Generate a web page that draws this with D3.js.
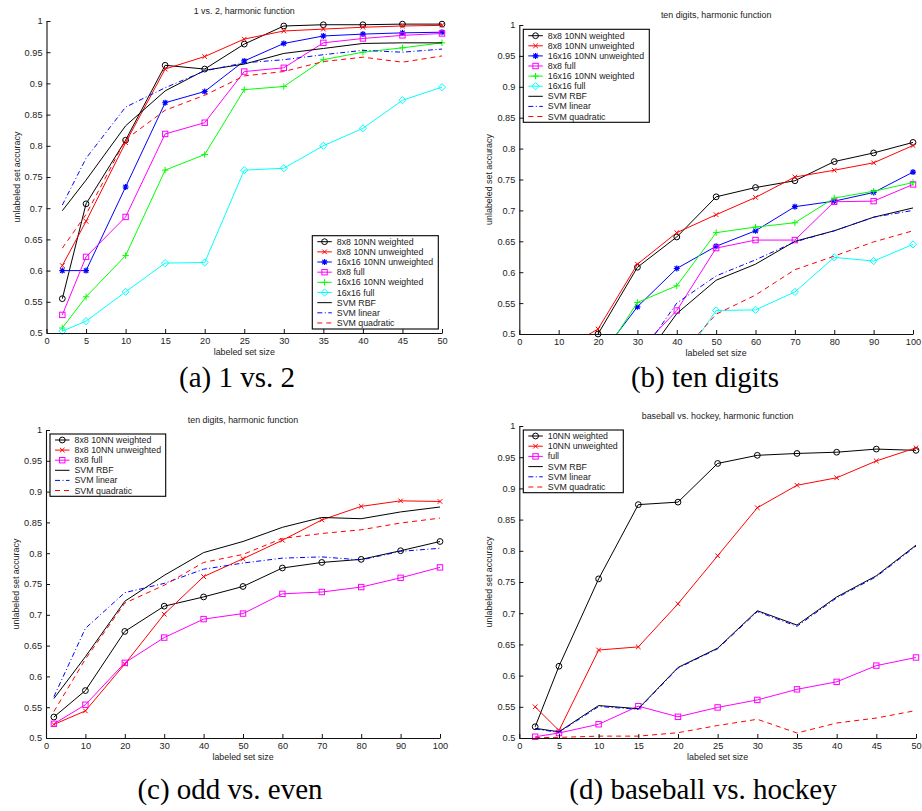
<!DOCTYPE html>
<html>
<head>
<meta charset="utf-8">
<script src="https://cdn.jsdelivr.net/npm/d3@7"></script>
<style>
  body { margin: 0; background: #fff; }
  svg { display: block; }
</style>
</head>
<body>
<svg id="fig" width="922" height="811"></svg>
<script>
// ---------- data ----------
const accuracyTicks = [0.5, 0.55, 0.6, 0.65, 0.7, 0.75, 0.8, 0.85, 0.9, 0.95, 1];
const sizeTicks50 = [0, 5, 10, 15, 20, 25, 30, 35, 40, 45, 50];
const sizeTicks100 = [0, 10, 20, 30, 40, 50, 60, 70, 80, 90, 100];

// (a) 1 vs. 2
const sizesA = [2, 5, 10, 15, 20, 25, 30, 35, 40, 45, 50];
const aWeighted8 = [0.555, 0.707, 0.809, 0.929, 0.923, 0.963, 0.992, 0.994, 0.994, 0.995, 0.995];
const aUnweighted8 = [0.608, 0.679, 0.805, 0.923, 0.943, 0.971, 0.984, 0.987, 0.990, 0.992, 0.993];
const aUnweighted16 = [0.600, 0.600, 0.734, 0.869, 0.887, 0.936, 0.964, 0.976, 0.979, 0.981, 0.982];
const aFull8 = [0.529, 0.622, 0.686, 0.819, 0.837, 0.919, 0.925, 0.965, 0.972, 0.977, 0.980];
const aWeighted16 = [0.508, 0.558, 0.624, 0.761, 0.786, 0.890, 0.895, 0.938, 0.950, 0.957, 0.965];
const aFull16 = [0.503, 0.519, 0.566, 0.612, 0.613, 0.761, 0.764, 0.800, 0.828, 0.873, 0.894];
const aRbf = [0.696, 0.745, 0.832, 0.888, 0.921, 0.931, 0.948, 0.956, 0.964, 0.965, 0.965];
const aLinear = [0.705, 0.780, 0.862, 0.893, 0.920, 0.933, 0.938, 0.946, 0.953, 0.950, 0.955];
const aQuad = [0.636, 0.690, 0.810, 0.857, 0.881, 0.912, 0.919, 0.935, 0.942, 0.934, 0.944];

// (b) ten digits
const sizesB = [10, 20, 30, 40, 50, 60, 70, 80, 90, 100];
const bWeighted8 = [0.450, 0.500, 0.608, 0.657, 0.722, 0.737, 0.748, 0.779, 0.793, 0.810];
const bUnweighted8 = [0.471, 0.508, 0.613, 0.664, 0.693, 0.721, 0.754, 0.765, 0.777, 0.805];
const bUnweighted16 = [0.400, 0.460, 0.544, 0.606, 0.642, 0.667, 0.706, 0.715, 0.729, 0.762];
const bFull8 = [0.400, 0.430, 0.471, 0.538, 0.639, 0.652, 0.652, 0.714, 0.715, 0.742];
const bWeighted16 = [0.400, 0.453, 0.551, 0.578, 0.664, 0.673, 0.680, 0.720, 0.731, 0.745];
const bFull16 = [0.350, 0.380, 0.400, 0.446, 0.538, 0.539, 0.568, 0.624, 0.618, 0.645];
const bRbf = [0.380, 0.420, 0.445, 0.533, 0.587, 0.613, 0.650, 0.667, 0.689, 0.704];
const bLinear = [0.390, 0.430, 0.459, 0.550, 0.594, 0.620, 0.649, 0.667, 0.689, 0.700];
const bQuad = [0.380, 0.420, 0.440, 0.461, 0.532, 0.563, 0.604, 0.626, 0.649, 0.667];

// (c) odd vs. even
const sizesC = [2, 10, 20, 30, 40, 50, 60, 70, 80, 90, 100];
const cWeighted8 = [0.534, 0.577, 0.673, 0.714, 0.729, 0.746, 0.776, 0.785, 0.790, 0.804, 0.819];
const cUnweighted8 = [0.522, 0.544, 0.620, 0.701, 0.762, 0.791, 0.821, 0.854, 0.876, 0.885, 0.884];
const cFull8 = [0.523, 0.554, 0.622, 0.663, 0.693, 0.702, 0.734, 0.737, 0.745, 0.760, 0.777];
const cRbf = [0.564, 0.632, 0.722, 0.764, 0.801, 0.819, 0.842, 0.858, 0.856, 0.867, 0.875];
const cLinear = [0.567, 0.678, 0.736, 0.751, 0.774, 0.784, 0.792, 0.794, 0.789, 0.803, 0.808];
const cQuad = [0.543, 0.628, 0.719, 0.748, 0.785, 0.798, 0.824, 0.832, 0.838, 0.849, 0.857];

// (d) baseball vs. hockey
const sizesD = [2, 5, 10, 15, 20, 25, 30, 35, 40, 45, 50];
const dWeighted = [0.518, 0.615, 0.755, 0.874, 0.878, 0.940, 0.953, 0.956, 0.958, 0.963, 0.961];
const dUnweighted = [0.550, 0.512, 0.641, 0.646, 0.715, 0.792, 0.869, 0.905, 0.917, 0.944, 0.965];
const dFull = [0.502, 0.508, 0.522, 0.551, 0.534, 0.549, 0.561, 0.578, 0.590, 0.616, 0.629];
const dRbf = [0.5155, 0.510, 0.552, 0.547, 0.613, 0.644, 0.704, 0.681, 0.726, 0.760, 0.809];
const dLinear = [0.5145, 0.509, 0.5505, 0.546, 0.612, 0.643, 0.7025, 0.679, 0.7245, 0.7585, 0.8075];
const dQuad = [0.5005, 0.501, 0.503, 0.503, 0.5085, 0.520, 0.530, 0.508, 0.524, 0.532, 0.544];

// ---------- styles ----------
const STYLE = {
  w8:   { color: "#000000", marker: "circle" },
  u8:   { color: "#ff0000", marker: "x" },
  u16:  { color: "#0000ff", marker: "star" },
  f8:   { color: "#ff00ff", marker: "square" },
  w16:  { color: "#00ff00", marker: "plus" },
  f16:  { color: "#00ffff", marker: "diamond" },
  rbf:  { color: "#000000", dash: null },
  lin:  { color: "#0000ff", dash: "5,2.5,1,2.5" },
  quad: { color: "#ff0000", dash: "5,4" }
};

const SANS = "'Liberation Sans', Arial, Helvetica, sans-serif";
const SERIF = "'Liberation Serif', 'Times New Roman', Times, serif";

const panels = [
  {
    title: "1 vs. 2, harmonic function", caption: "(a) 1 vs. 2",
    sizes: sizesA, xMax: 50, xTicks: sizeTicks50,
    box: { x0: 46.5, x1: 442, y0: 21, y1: 333 },
    captionPos: [237, 387],
    legend: { x: 312.3, y: 235.7, w: 126, h: 93.3, row0: 241.7, step: 10.16 },
    series: [
      ["8x8 10NN weighted", aWeighted8, "w8"],
      ["8x8 10NN unweighted", aUnweighted8, "u8"],
      ["16x16 10NN unweighted", aUnweighted16, "u16"],
      ["8x8 full", aFull8, "f8"],
      ["16x16 10NN weighted", aWeighted16, "w16"],
      ["16x16 full", aFull16, "f16"],
      ["SVM RBF", aRbf, "rbf"],
      ["SVM linear", aLinear, "lin"],
      ["SVM quadratic", aQuad, "quad"]
    ]
  },
  {
    title: "ten digits, harmonic function", caption: "(b) ten digits",
    sizes: sizesB, xMax: 100, xTicks: sizeTicks100,
    box: { x0: 519.3, x1: 913, y0: 25, y1: 334 },
    captionPos: [705, 387],
    legend: { x: 523.3, y: 29.3, w: 126, h: 93, row0: 35.7, step: 10.1 },
    series: [
      ["8x8 10NN weighted", bWeighted8, "w8"],
      ["8x8 10NN unweighted", bUnweighted8, "u8"],
      ["16x16 10NN unweighted", bUnweighted16, "u16"],
      ["8x8 full", bFull8, "f8"],
      ["16x16 10NN weighted", bWeighted16, "w16"],
      ["16x16 full", bFull16, "f16"],
      ["SVM RBF", bRbf, "rbf"],
      ["SVM linear", bLinear, "lin"],
      ["SVM quadratic", bQuad, "quad"]
    ]
  },
  {
    title: "ten digits, harmonic function", caption: "(c) odd vs. even",
    sizes: sizesC, xMax: 100, xTicks: sizeTicks100,
    box: { x0: 46, x1: 440, y0: 430, y1: 738 },
    captionPos: [230, 799],
    legend: { x: 50, y: 434, w: 115.7, h: 62.3, row0: 440, step: 10.1 },
    series: [
      ["8x8 10NN weighted", cWeighted8, "w8"],
      ["8x8 10NN unweighted", cUnweighted8, "u8"],
      ["8x8 full", cFull8, "f8"],
      ["SVM RBF", cRbf, "rbf"],
      ["SVM linear", cLinear, "lin"],
      ["SVM quadratic", cQuad, "quad"]
    ]
  },
  {
    title: "baseball vs. hockey, harmonic function", caption: "(d) baseball vs. hockey",
    sizes: sizesD, xMax: 50, xTicks: sizeTicks50,
    box: { x0: 519.3, x1: 916, y0: 426, y1: 738 },
    captionPos: [703, 799],
    legend: { x: 523.3, y: 430, w: 100, h: 62.7, row0: 436, step: 10.2 },
    series: [
      ["10NN weighted", dWeighted, "w8"],
      ["10NN unweighted", dUnweighted, "u8"],
      ["full", dFull, "f8"],
      ["SVM RBF", dRbf, "rbf"],
      ["SVM linear", dLinear, "lin"],
      ["SVM quadratic", dQuad, "quad"]
    ]
  }
];

const svg = d3.select("#fig");
svg.append("rect").attr("width", 922).attr("height", 811).attr("fill", "#fff");

// MATLAB-like marker glyphs centred on (cx, cy)
function drawMarker(g, type, cx, cy, color) {
  const s = g.append("g").attr("transform", `translate(${cx},${cy})`)
    .attr("fill", "none").attr("stroke", color).attr("stroke-width", 1);
  if (type === "circle") {
    s.append("circle").attr("r", 2.9);
  } else if (type === "square") {
    s.append("rect").attr("x", -2.7).attr("y", -2.7).attr("width", 5.4).attr("height", 5.4);
  } else if (type === "diamond") {
    s.append("path").attr("d", "M0,-3.6L3.6,0L0,3.6L-3.6,0Z");
  } else if (type === "x") {
    s.append("path").attr("d", "M-2.3,-2.3L2.3,2.3M-2.3,2.3L2.3,-2.3");
  } else if (type === "plus") {
    s.append("path").attr("d", "M-3.2,0L3.2,0M0,-3.2L0,3.2");
  } else if (type === "star") {
    s.append("path").attr("d", "M-3,0L3,0M0,-3L0,3M-2.2,-2.2L2.2,2.2M-2.2,2.2L2.2,-2.2")
      .attr("stroke-width", 1.2);
  }
}

panels.forEach((p, pi) => {
  const { x0, x1, y0, y1 } = p.box;
  const x = d3.scaleLinear().domain([0, p.xMax]).range([x0, x1]);
  const y = d3.scaleLinear().domain([0.5, 1]).range([y1, y0]);
  const g = svg.append("g");

  const clipId = "plotclip" + pi;
  svg.append("clipPath").attr("id", clipId)
    .append("rect").attr("x", x0).attr("y", y0).attr("width", x1 - x0).attr("height", y1 - y0);

  // title
  g.append("text").attr("x", (x0 + x1) / 2).attr("y", y0 - 7)
    .attr("text-anchor", "middle").attr("font-family", SANS).attr("font-size", 8.9)
    .attr("fill", "#222").text(p.title);

  // series
  const line = d3.line().x(d => x(d[0])).y(d => y(d[1]));
  const plot = g.append("g");
  p.series.forEach(([name, vals, key]) => {
    const st = STYLE[key];
    const pts = p.sizes.map((s, i) => [s, vals[i]]);
    plot.append("path").attr("d", line(pts)).attr("clip-path", `url(#${clipId})`)
      .attr("fill", "none").attr("stroke", st.color).attr("stroke-width", 1)
      .attr("stroke-dasharray", st.dash || null);
    if (st.marker) {
      pts.filter(d => d[1] >= 0.5 && d[1] <= 1)
        .forEach(d => drawMarker(plot, st.marker, x(d[0]), y(d[1]), st.color));
    }
  });

  // axes (ticks pointing inward)
  const yAxis = g.append("g").attr("transform", `translate(${x0},0)`)
    .call(d3.axisLeft(y).tickValues(accuracyTicks).tickSize(-4).tickSizeOuter(0).tickPadding(4)
      .tickFormat(t => String(+t.toFixed(2))));
  const xAxis = g.append("g").attr("transform", `translate(0,${y1})`)
    .call(d3.axisBottom(x).tickValues(p.xTicks).tickSize(-4).tickSizeOuter(0).tickPadding(4.5)
      .tickFormat(d3.format("d")));
  [yAxis, xAxis].forEach(a => {
    a.attr("font-family", SANS).attr("font-size", 9.2).attr("color", "#111");
    a.selectAll("text").attr("fill", "#222");
    a.select(".domain").attr("stroke-width", 1.1);
  });

  // axis labels
  g.append("text").attr("x", (x0 + x1) / 2).attr("y", y1 + 22)
    .attr("text-anchor", "middle").attr("font-family", SANS).attr("font-size", 8.9)
    .attr("fill", "#222").text("labeled set size");
  g.append("text")
    .attr("transform", `translate(${x0 - 27},${(y0 + y1) / 2}) rotate(-90)`)
    .attr("text-anchor", "middle").attr("font-family", SANS).attr("font-size", 8.9)
    .attr("fill", "#222").text("unlabeled set accuracy");

  // legend
  const L = p.legend;
  const lg = g.append("g");
  lg.append("rect").attr("x", L.x).attr("y", L.y).attr("width", L.w).attr("height", L.h)
    .attr("fill", "#fff").attr("stroke", "#000").attr("stroke-width", 1.1);
  p.series.forEach(([name, vals, key], i) => {
    const st = STYLE[key];
    const ry = L.row0 + i * L.step;
    const lx0 = L.x + 5, lx1 = L.x + 19.5;
    lg.append("line").attr("x1", lx0).attr("x2", lx1).attr("y1", ry).attr("y2", ry)
      .attr("stroke", st.color).attr("stroke-width", 1)
      .attr("stroke-dasharray", st.dash || null);
    if (st.marker) drawMarker(lg, st.marker, (lx0 + lx1) / 2, ry, st.color);
    lg.append("text").attr("x", L.x + 24.5).attr("y", ry).attr("dy", "0.35em")
      .attr("font-family", SANS).attr("font-size", 8.8).attr("fill", "#222").text(name);
  });

  // caption
  g.append("text").attr("x", p.captionPos[0]).attr("y", p.captionPos[1])
    .attr("text-anchor", "middle").attr("font-family", SERIF).attr("font-size", 29)
    .attr("fill", "#000").text(p.caption);
});
</script>
</body>
</html>
